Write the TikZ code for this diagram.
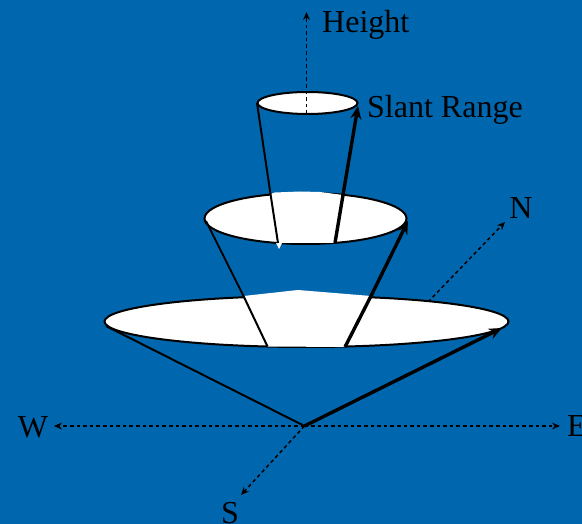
\documentclass[tikz,border=0pt]{standalone}
\usepackage{fontspec}
\setmainfont{Liberation Serif}
\usetikzlibrary{arrows.meta}
\definecolor{bgblue}{HTML}{0067AE}
\tikzset{
  x=1pt,y=-1pt,
  disc/.style={draw=black,line width=2pt,fill=white},
  patch/.style={fill=white,draw=none},
  axis/.style={black,line width=1.5pt,dash pattern=on 3.6pt off 3pt,-{Stealth[length=8pt,width=7pt]}},
  thinedge/.style={black,line width=2pt},
  thickedge/.style={black,line width=3.4pt},
  slant/.style={thickedge,-{Stealth[length=13pt,width=11pt]}},
  lbl/.style={font=\fontsize{32}{34}\selectfont,text=black,inner sep=0pt},
}
\begin{document}
\begin{tikzpicture}
\useasboundingbox[fill=bgblue] (0,0) rectangle (582,524);
% named points
\coordinate (O) at (304.5,426);
\coordinate (Wend) at (54,426);
\coordinate (Eend) at (560,426);
\coordinate (Send) at (241,495);
\coordinate (Nstart) at (428,302);
\coordinate (Nend) at (505,222);
\coordinate (Hstart) at (306.5,114);
\coordinate (Hend) at (306.5,12);
\coordinate (T1) at (257,103);
\coordinate (T2) at (358,106);
\coordinate (M0) at (270.5,194);
\coordinate (M1) at (343,195);
\coordinate (M2) at (278,243);
\coordinate (M3) at (335,243);
\coordinate (ML) at (206,221);
\coordinate (MR) at (408,221);
\coordinate (B0) at (243.5,296);
\coordinate (B1) at (371,296);
\coordinate (B2) at (267.5,346.5);
\coordinate (B3) at (345,347);
\coordinate (BL) at (106,326);
\coordinate (BR) at (502,328);
% axes
\draw[axis] (O) -- (Wend);
\draw[axis] (O) -- (Eend);
\draw[axis] (O) -- (Send);
\draw[axis] (Nstart) -- (Nend);
% discs
\draw[disc] (305.5,218.5) ellipse [x radius=101,y radius=25.5];
\draw[disc] (306.5,321.5) ellipse [x radius=202,y radius=25.5];
\draw[disc] (307.5,103) ellipse [x radius=50,y radius=11];
\fill[patch] (M0) -- (275,192.5) -- (300,191.5) -- (320,192) -- (M1) -- (M3) -- (M2) -- cycle;
\fill[patch] (B0) -- (298,290) -- (B1) -- (B3) -- (B2) -- cycle;
\fill[patch] (276,243) -- (282,243) -- (279,249) -- cycle;
% height axis
\draw[axis] (Hstart) -- (Hend);
% cone edges
\draw[thinedge] (T1) -- (M0) -- (M2);
\draw[thinedge] (ML) -- (B0) -- (B2);
\draw[thinedge] (BL) -- (O);
\draw[thickedge] (M3) -- (M1);
\draw[slant] (M1) -- (T2);
\draw[thickedge] (B3) -- (B1);
\draw[slant] (B1) -- (MR);
\draw[slant] (O) -- (BR);
% labels
\node[lbl,anchor=base west] (h) at (322,33) {Height};
\node[lbl,anchor=base west] (r) at (367,118) {Slant Range};
\node[lbl,anchor=base] (n) at (521,219) {N};
\node[lbl,anchor=base] (w) at (33,437) {W};
\node[lbl,anchor=base west] (e) at (567,436) {E};
\node[lbl,anchor=base] (s) at (230,523) {S};
\end{tikzpicture}
\end{document}
